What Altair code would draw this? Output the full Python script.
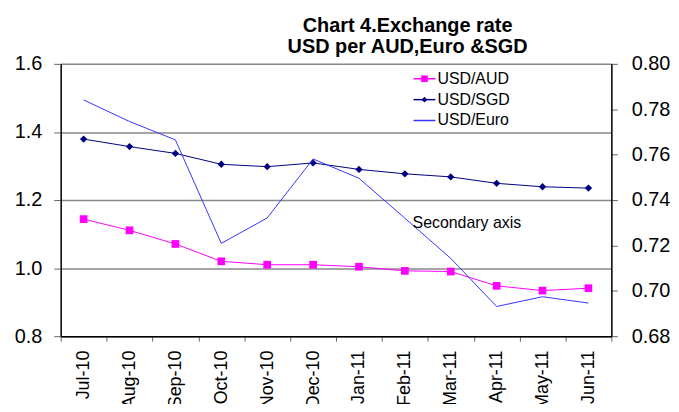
import altair as alt
import pandas as pd

months = ["Jul-10", "Aug-10", "Sep-10", "Oct-10", "Nov-10", "Dec-10",
          "Jan-11", "Feb-11", "Mar-11", "Apr-11", "May-11", "Jun-11"]
usd_aud = [1.144, 1.111, 1.071, 1.020, 1.010, 1.010, 1.004, 0.992, 0.990, 0.948, 0.934, 0.941]
usd_sgd = [1.379, 1.357, 1.337, 1.305, 1.298, 1.309, 1.290, 1.277, 1.268, 1.249, 1.239, 1.235]
usd_euro = [0.7841, 0.7746, 0.7665, 0.7209, 0.7321, 0.7581, 0.7496, 0.7320, 0.7143, 0.6931, 0.6974, 0.6946]

left_ticks = [0.8, 1.0, 1.2, 1.4, 1.6]
right_ticks = [0.68, 0.70, 0.72, 0.74, 0.76, 0.78, 0.80]
series_names = ["USD/AUD", "USD/SGD", "USD/Euro"]
title_lines = ["Chart 4.Exchange rate", "USD per AUD,Euro &SGD"]
note_text = "Secondary axis"

FONT = "Liberation Sans"
C_AUD = "#FF00FF"
C_SGD = "#000080"
C_EURO = "#3535FF"

df = pd.DataFrame({"month": months, "aud": usd_aud, "sgd": usd_sgd, "euro": usd_euro})
one = pd.DataFrame({"k": [0]})

X = alt.X("month:N", sort=months,
          scale=alt.Scale(type="band", domain=months, paddingInner=0, paddingOuter=0),
          axis=alt.Axis(title=None, labelAngle=-90, labelFontSize=18, labelFont=FONT,
                        labelColor="black", tickBand="extent", tickSize=5, tickColor="#666",
                        labelPadding=9, domainColor="black", domainWidth=1.5, zindex=2,
                        labelBaseline="middle", labelAlign="right"))

left_scale = alt.Scale(domain=[0.8, 1.6], nice=False, zero=False)
left_axis = alt.Axis(title=None, values=left_ticks, format=".1f", grid=True,
                     gridColor="#888888", gridWidth=1.5, labelFontSize=20, labelFont=FONT,
                     labelColor="black", tickSize=7, tickColor="#666", labelPadding=12,
                     domainColor="black", domainWidth=1.5)

base = alt.Chart(df)

aud_line = base.mark_line(color=C_AUD, strokeWidth=1).encode(
    x=X, y=alt.Y("aud:Q", scale=left_scale, axis=left_axis))
aud_pts = base.mark_point(shape="square", filled=True, color=C_AUD, size=60, opacity=1).encode(
    x=X, y=alt.Y("aud:Q", scale=left_scale, axis=left_axis))
sgd_line = base.mark_line(color=C_SGD, strokeWidth=1).encode(
    x=X, y=alt.Y("sgd:Q", scale=left_scale, axis=left_axis))
sgd_pts = base.mark_point(shape="diamond", filled=True, color=C_SGD, size=55, opacity=1).encode(
    x=X, y=alt.Y("sgd:Q", scale=left_scale, axis=left_axis))

left = alt.layer(aud_line, aud_pts, sgd_line, sgd_pts)

right_axis = alt.Axis(title=None, orient="right", values=right_ticks, format=".2f", grid=False,
                      labelFontSize=20, labelFont=FONT, labelColor="black", tickSize=6,
                      tickColor="#666", labelPadding=14, domainColor="black", domainWidth=1.5)
euro_line = base.mark_line(color=C_EURO, strokeWidth=1).encode(
    x=X, y=alt.Y("euro:Q", scale=alt.Scale(domain=[0.68, 0.80], nice=False, zero=False),
                 axis=right_axis))

# manual legend
leg_rows = [15, 36, 57]
leg_colors = [C_AUD, C_SGD, C_EURO]
legend_layers = []
for name, yy, col in zip(series_names, leg_rows, leg_colors):
    legend_layers.append(
        alt.Chart(one).mark_rule(color=col, strokeWidth=1.5).encode(
            x=alt.value(355), x2=alt.value(377), y=alt.value(yy)))
    legend_layers.append(
        alt.Chart(one).mark_text(text=name, align="left", baseline="middle", fontSize=16,
                                 font=FONT, color="black").encode(
            x=alt.value(379), y=alt.value(yy)))
legend_layers.append(
    alt.Chart(one).mark_point(shape="square", filled=True, color=C_AUD, size=45, opacity=1).encode(
        x=alt.value(366), y=alt.value(leg_rows[0])))
legend_layers.append(
    alt.Chart(one).mark_point(shape="diamond", filled=True, color=C_SGD, size=35, opacity=1).encode(
        x=alt.value(366), y=alt.value(leg_rows[1])))

note = alt.Chart(one).mark_text(text=note_text, align="left", baseline="middle", fontSize=16,
                                font=FONT, color="black").encode(
    x=alt.value(354), y=alt.value(160))

chart = alt.layer(left, euro_line, note, *legend_layers).resolve_scale(y="independent").properties(
    width=554, height=274,
    padding={"left": 53, "top": 55, "right": 60, "bottom": 67},
    autosize=alt.AutoSizeParams(type="none"),
    title=alt.TitleParams(text=title_lines, fontSize=20, fontWeight="bold", font=FONT,
                          color="black", anchor="middle", dx=72, offset=-3, lineHeight=21),
).configure_view(stroke=None).configure(background="white")

chart.save("out.html", embed_options={"renderer": "svg", "actions": False})
